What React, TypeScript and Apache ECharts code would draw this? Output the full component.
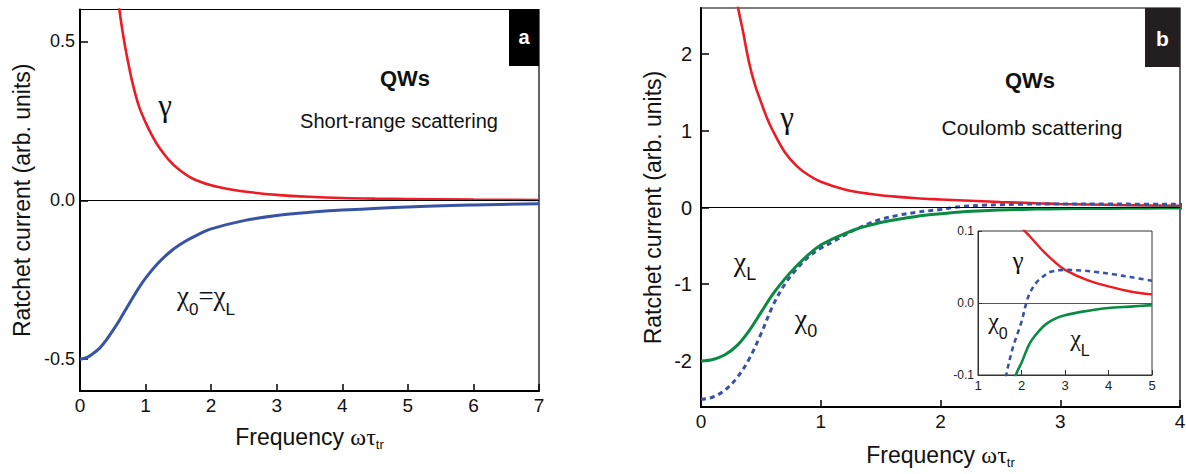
import React, { useEffect, useRef } from "react";
import * as echarts from "echarts";

// ---- Panel a (short-range scattering) ----
const aGammaX = [0.57, 0.6, 0.65, 0.7, 0.8, 0.9, 1.0, 1.1, 1.2, 1.35, 1.5, 1.7, 2.0, 2.3, 2.6, 3.0, 3.5, 4.0, 4.5, 5.0, 6.0, 7.0];
const aGammaY = [0.66, 0.6, 0.53, 0.47, 0.37, 0.295, 0.245, 0.203, 0.168, 0.128, 0.098, 0.07, 0.047, 0.034, 0.025, 0.017, 0.011, 0.007, 0.005, 0.004, 0.002, 0.001];
const aChiX = [0, 0.1, 0.2, 0.3, 0.4, 0.5, 0.6, 0.7, 0.8, 0.9, 1.0, 1.2, 1.4, 1.6, 1.8, 2.0, 2.5, 3.0, 3.5, 4.0, 5.0, 6.0, 7.0];
const aChiY = [-0.5, -0.495, -0.482, -0.465, -0.44, -0.41, -0.378, -0.343, -0.308, -0.275, -0.245, -0.196, -0.158, -0.13, -0.108, -0.09, -0.064, -0.048, -0.038, -0.031, -0.021, -0.015, -0.011];

// ---- Panel b (Coulomb scattering) ----
const bGammaX = [0.29, 0.31, 0.35, 0.4, 0.45, 0.5, 0.55, 0.6, 0.7, 0.8, 0.9, 1.0, 1.2, 1.4, 1.6, 1.8, 2.0, 2.2, 2.5, 2.8, 3.0, 3.5, 4.0, 4.5, 5.0];
const bGammaY = [2.8, 2.6, 2.3, 1.9, 1.6, 1.38, 1.17, 1.0, 0.72, 0.54, 0.42, 0.335, 0.235, 0.18, 0.145, 0.12, 0.105, 0.092, 0.072, 0.055, 0.046, 0.032, 0.023, 0.016, 0.012];
const bChi0X = [0, 0.1, 0.2, 0.3, 0.4, 0.5, 0.6, 0.7, 0.8, 0.9, 1.0, 1.1, 1.2, 1.3, 1.4, 1.5, 1.65, 1.8, 1.9, 2.0, 2.11, 2.2, 2.35, 2.5, 2.65, 3.0, 3.4, 3.72, 4.1, 4.5, 5.0];
const bChi0Y = [-2.5, -2.47, -2.38, -2.22, -1.98, -1.65, -1.28, -1.0, -0.8, -0.64, -0.53, -0.45, -0.36, -0.28, -0.21, -0.155, -0.1, -0.062, -0.044, -0.026, 0, 0.015, 0.029, 0.037, 0.043, 0.046, 0.045, 0.043, 0.04, 0.036, 0.031];
const bChiLX = [0, 0.1, 0.2, 0.3, 0.4, 0.5, 0.6, 0.7, 0.8, 0.9, 1.0, 1.1, 1.2, 1.3, 1.4, 1.5, 1.6, 1.7, 1.87, 2.0, 2.19, 2.4, 2.57, 2.8, 3.0, 3.4, 3.72, 4.0, 4.5, 5.0];
const bChiLY = [-2.0, -1.98, -1.92, -1.8, -1.61, -1.37, -1.13, -0.93, -0.76, -0.61, -0.49, -0.41, -0.34, -0.28, -0.235, -0.195, -0.165, -0.14, -0.1, -0.083, -0.056, -0.039, -0.029, -0.021, -0.017, -0.012, -0.009, -0.007, -0.005, -0.003];

// tick values
const aYTicks = [-0.5, 0, 0.5];
const bYTicks = [-2, -1, 0, 1, 2];

const RED = "#ed1c24";
const BLUE = "#3953a4";
const GREEN = "#0b8a43";
const SANS = "Liberation Sans, Arial, sans-serif";
const SERIF = "Liberation Serif, Times New Roman, serif";
const SMOOTH = 0.35;

const zip = (xs: number[], ys: number[]) => xs.map((x, i) => [x, ys[i]]);

const zeroLine = (color: string) => ({
  silent: true,
  symbol: ["none", "none"],
  label: { show: false },
  lineStyle: { color, width: 1, type: "solid" },
  data: [{ yAxis: 0 }],
});

const mainX = (grid: number, max: number, nameGap: number) => ({
  type: "value",
  gridIndex: grid,
  min: 0,
  max,
  interval: 1,
  axisLine: { onZero: false, lineStyle: { color: "#000", width: 2 } },
  axisTick: { inside: true, length: 7, lineStyle: { color: "#000", width: 1.5 } },
  splitLine: { show: false },
  axisLabel: { fontSize: 19, color: "#111", fontFamily: SANS, margin: 5 },
  name: "{a|Frequency }{g|ωτ}{b|tr}",
  nameLocation: "middle",
  nameGap,
  nameTextStyle: {
    rich: {
      a: { fontSize: 23, fontFamily: SANS, color: "#111", lineHeight: 26, verticalAlign: "top" },
      g: { fontSize: 24, fontFamily: SERIF, color: "#111", lineHeight: 26, verticalAlign: "top" },
      b: { fontSize: 13, fontFamily: SANS, color: "#111", lineHeight: 26, verticalAlign: "bottom" },
    },
  },
});

const mainY = (grid: number, min: number, max: number, ticks: number[], fmt: (v: number) => string, nameGap: number, fontSize: number, margin: number) => ({
  type: "value",
  gridIndex: grid,
  min,
  max,
  axisLine: { onZero: false, lineStyle: { color: "#000", width: 2 } },
  axisTick: { inside: true, length: 8, customValues: ticks, lineStyle: { color: "#000", width: 1.5 } },
  splitLine: { show: false },
  axisLabel: { fontSize, color: "#111", fontFamily: SANS, margin, customValues: ticks, formatter: fmt },
  name: "Ratchet current (arb. units)",
  nameLocation: "middle",
  nameGap,
  nameTextStyle: { fontSize: 23, fontFamily: SANS, color: "#111" },
});

const txt = (x: number, y: number, text: string, font: string, fill = "#111", rich?: any) => ({
  type: "text",
  x,
  y,
  z: 100,
  style: { text, font, fill, align: "center", verticalAlign: "middle", rich },
});

const chiRich = (g: number, s: number) => ({
  g: { fontSize: g, fontFamily: SERIF, fill: "#111", lineHeight: g + 8, verticalAlign: "top" },
  s: { fontSize: s, fontFamily: SANS, fill: "#111", lineHeight: g + 8, verticalAlign: "bottom" },
});

const line = (xi: number, xs: number[], ys: number[], color: string, width: number, extra: any = {}) => ({
  type: "line",
  xAxisIndex: xi,
  yAxisIndex: xi,
  data: zip(xs, ys),
  showSymbol: false,
  smooth: SMOOTH,
  lineStyle: { color, width, ...(extra.lineType ? { type: extra.lineType } : {}) },
  ...(extra.markLine ? { markLine: extra.markLine } : {}),
  ...(xi === 2 ? { z: 6 } : {}),
});

export default function App() {
  const ref = useRef<HTMLDivElement>(null);
  useEffect(() => {
    if (!ref.current) return;
    const chart = echarts.init(ref.current, undefined, { renderer: "svg" });
    const option: any = {
      animation: false,
      backgroundColor: "#fff",
      grid: [
        { left: 80, top: 9.5, width: 459, height: 381.5, show: true, borderColor: "#000", borderWidth: 1.2, backgroundColor: "transparent", containLabel: false, outerBoundsMode: "none" },
        { left: 701, top: 8, width: 479, height: 399, show: true, borderColor: "#000", borderWidth: 1.2, backgroundColor: "transparent", containLabel: false, outerBoundsMode: "none" },
        { left: 978, top: 231, width: 174, height: 144, show: true, borderColor: "#333", borderWidth: 1, backgroundColor: "#fff", z: 3, containLabel: false, outerBoundsMode: "none" },
      ],
      xAxis: [
        mainX(0, 7, 34),
        mainX(1, 4, 36),
        {
          type: "value",
          gridIndex: 2,
          min: 1,
          max: 5,
          interval: 1,
          z: 5,
          axisLine: { onZero: false, lineStyle: { color: "#333", width: 1 } },
          axisTick: { inside: true, length: 5, lineStyle: { color: "#333", width: 1 } },
          splitLine: { show: false },
          axisLabel: { fontSize: 13, color: "#222", fontFamily: SANS, margin: 4 },
        },
      ],
      yAxis: [
        mainY(0, -0.6, 0.6, aYTicks, (v: number) => v.toFixed(1), 47, 18, 5),
        mainY(1, -2.6, 2.6, bYTicks, (v: number) => String(v), 37, 20, 9),
        {
          type: "value",
          gridIndex: 2,
          min: -0.1,
          max: 0.1,
          interval: 0.1,
          z: 5,
          axisLine: { onZero: false, lineStyle: { color: "#333", width: 1 } },
          axisTick: { inside: true, length: 4, lineStyle: { color: "#333", width: 1 } },
          splitLine: { show: false },
          axisLabel: { fontSize: 12, color: "#222", fontFamily: SANS, margin: 4, formatter: (v: number) => v.toFixed(1) },
        },
      ],
      series: [
        line(0, aGammaX, aGammaY, RED, 2.6, { markLine: zeroLine("#000") }),
        line(0, aChiX, aChiY, BLUE, 3),
        line(1, bGammaX, bGammaY, RED, 2.6, { markLine: zeroLine("#000") }),
        line(1, bChi0X, bChi0Y, BLUE, 3, { lineType: [5, 4] }),
        line(1, bChiLX, bChiLY, GREEN, 3),
        line(2, bGammaX, bGammaY, RED, 2.4, { markLine: zeroLine("#555") }),
        line(2, bChi0X, bChi0Y, BLUE, 2.6, { lineType: [5, 4] }),
        line(2, bChiLX, bChiLY, GREEN, 2.6),
      ],
      graphic: [
        { type: "rect", z: 100, shape: { x: 509, y: 9.5, width: 30, height: 56.5 }, style: { fill: "#000" } },
        txt(524, 37, "a", `bold 20px ${SANS}`, "#fff"),
        { type: "rect", z: 100, shape: { x: 1145, y: 8, width: 35, height: 59 }, style: { fill: "#231f20" } },
        txt(1162.5, 38, "b", `bold 21px ${SANS}`, "#fff"),
        txt(165, 105, "γ", `31px ${SERIF}`),
        txt(405, 78, "QWs", `bold 22px ${SANS}`),
        txt(399, 121, "Short-range scattering", `20px ${SANS}`),
        txt(206, 300, "{g|χ}{s|0}{g|=χ}{s|L}", `26px ${SERIF}`, "#111", chiRich(27, 17)),
        txt(787, 117, "γ", `31px ${SERIF}`),
        txt(1030, 80, "QWs", `bold 22px ${SANS}`),
        txt(1032, 127, "Coulomb scattering", `21px ${SANS}`),
        txt(745, 265, "{g|χ}{s|L}", `27px ${SERIF}`, "#111", chiRich(28, 18)),
        txt(806, 322, "{g|χ}{s|0}", `27px ${SERIF}`, "#111", chiRich(28, 18)),
        txt(1018, 260, "γ", `25px ${SERIF}`),
        txt(998, 325, "{g|χ}{s|0}", `24px ${SERIF}`, "#111", chiRich(24, 16)),
        txt(1080, 342, "{g|χ}{s|L}", `24px ${SERIF}`, "#111", chiRich(24, 16)),
      ],
    };
    chart.setOption(option);
    return () => chart.dispose();
  }, []);
  return <div ref={ref} style={{ position: "fixed", left: 0, top: 0, width: 1186, height: 474 }} />;
}
